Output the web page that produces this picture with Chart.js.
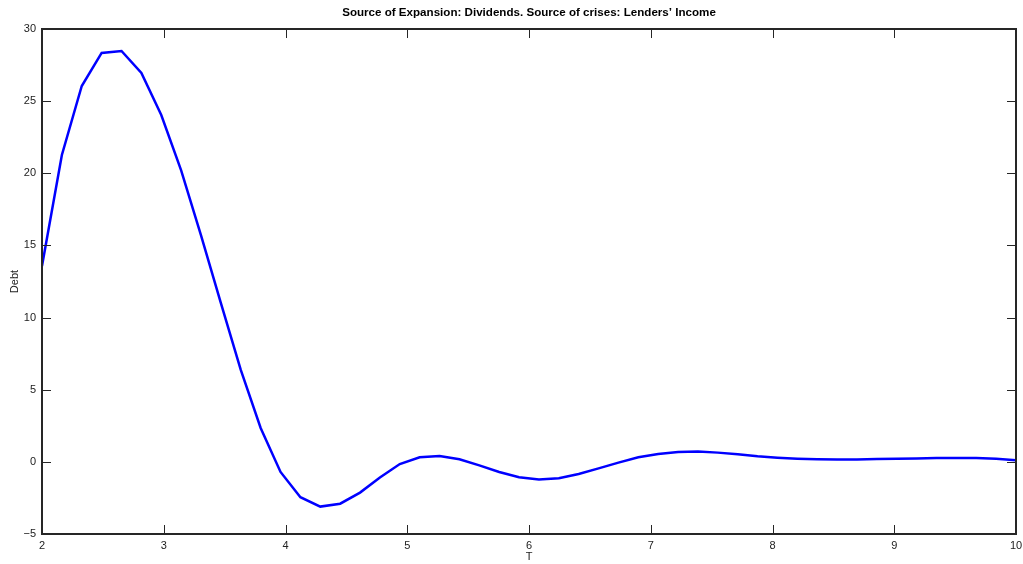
<!DOCTYPE html>
<html>
<head>
<meta charset="utf-8">
<script src="https://cdn.jsdelivr.net/npm/chart.js@4/dist/chart.umd.min.js"></script>
<style>
html,body{margin:0;padding:0;background:#fff;}
#wrap{width:1023px;height:564px;}
</style>
</head>
<body>
<div id="wrap"><canvas id="c" width="1023" height="564"></canvas></div>
<script>
const titleText = "Source of Expansion: Dividends. Source of crises: Lenders\u2019 Income";
const xLabel = "T";
const yLabel = "Debt";
const tStart = 2;
const tEnd = 10;
const debt = [
  13.58, 21.27, 26.05, 28.34, 28.48, 26.95, 24.04, 20.2, 15.7, 11.0,
  6.37, 2.35, -0.70, -2.45, -3.10, -2.90, -2.13, -1.09, -0.15, 0.32,
  0.41, 0.18, -0.24, -0.70, -1.07, -1.23, -1.14, -0.84, -0.45, -0.05,
  0.32, 0.55, 0.69, 0.71, 0.64, 0.53, 0.39, 0.29, 0.22, 0.18,
  0.17, 0.17, 0.20, 0.22, 0.24, 0.26, 0.27, 0.26, 0.22, 0.11
];
const xTicks = [2, 3, 4, 5, 6, 7, 8, 9, 10];
const yTicks = [-5, 0, 5, 10, 15, 20, 25, 30];

const n = debt.length;
const points = debt.map((v, i) => ({ x: tStart + (tEnd - tStart) * i / (n - 1), y: v }));

const centerTitle = {
  id: 'centerTitle',
  afterLayout(chart) {
    if (chart.titleBlock) {
      chart.titleBlock.left = chart.chartArea.left;
      chart.titleBlock.right = chart.chartArea.right;
    }
  }
};

const frameTicks = {
  id: 'frameTicks',
  afterDatasetsDraw(chart) {
    const { ctx, chartArea: a, scales } = chart;
    ctx.save();
    ctx.strokeStyle = '#262626';
    ctx.lineWidth = 2;
    ctx.beginPath();
    ctx.rect(Math.round(a.left), Math.round(a.top), Math.round(a.right - a.left), Math.round(a.bottom - a.top));
    ctx.stroke();
    const L = 9;
    ctx.lineWidth = 1;
    ctx.beginPath();
    xTicks.forEach(v => {
      const px = Math.round(scales.x.getPixelForValue(v)) + 0.5;
      ctx.moveTo(px, a.bottom); ctx.lineTo(px, a.bottom - L);
      ctx.moveTo(px, a.top); ctx.lineTo(px, a.top + L);
    });
    yTicks.forEach(v => {
      const py = Math.round(scales.y.getPixelForValue(v)) + 0.5;
      ctx.moveTo(a.left, py); ctx.lineTo(a.left + L, py);
      ctx.moveTo(a.right, py); ctx.lineTo(a.right - L, py);
    });
    ctx.stroke();
    ctx.restore();
  }
};

new Chart(document.getElementById('c'), {
  type: 'line',
  data: {
    datasets: [{
      data: points,
      borderColor: '#0000FF',
      borderWidth: 2.5,
      pointRadius: 0,
      tension: 0,
      fill: false
    }]
  },
  options: {
    responsive: false,
    animation: false,
    devicePixelRatio: 1,
    layout: { padding: { left: 0, right: 7, top: 0, bottom: 0 } },
    plugins: {
      legend: { display: false },
      tooltip: { enabled: false },
      title: {
        display: true,
        text: titleText,
        color: '#000',
        font: { family: 'Liberation Sans, Arial, sans-serif', size: 11.6, weight: 'bold' },
        padding: { top: 5.5, bottom: 9.6 }
      }
    },
    scales: {
      x: {
        type: 'linear',
        min: tStart, max: tEnd,
        afterFit(s) { s.height = 30; s.paddingLeft = 0; s.paddingRight = 0; },
        afterBuildTicks(s) { s.ticks = xTicks.map(v => ({ value: v })); },
        grid: { display: false, drawTicks: false },
        border: { display: false },
        ticks: {
          padding: 5,
          color: '#222',
          maxRotation: 0,
          font: { family: 'Liberation Sans, Arial, sans-serif', size: 11 }
        },
        title: {
          display: true, text: xLabel, color: '#222',
          font: { family: 'Liberation Sans, Arial, sans-serif', size: 11 },
          padding: { top: 0, bottom: 0 }
        }
      },
      y: {
        min: -5, max: 30,
        afterFit(s) { s.width = 42; s.paddingTop = 0; s.paddingBottom = 0; },
        afterBuildTicks(s) { s.ticks = yTicks.map(v => ({ value: v })); },
        grid: { display: false, drawTicks: false },
        border: { display: false },
        ticks: {
          padding: 6,
          color: '#222',
          font: { family: 'Liberation Sans, Arial, sans-serif', size: 11 },
          callback: v => (v < 0 ? '\u2212' + Math.abs(v) : String(v))
        },
        title: {
          display: true, text: yLabel, color: '#222',
          font: { family: 'Liberation Sans, Arial, sans-serif', size: 11 },
          padding: { top: 8, bottom: 0 }
        }
      }
    }
  },
  plugins: [centerTitle, frameTicks]
});
</script>
</body>
</html>
